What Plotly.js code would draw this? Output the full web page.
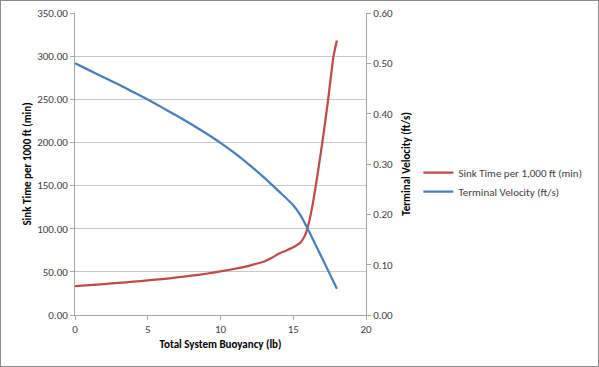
<!DOCTYPE html>
<html>
<head>
<meta charset="utf-8">
<script src="https://cdn.plot.ly/plotly-3.0.1.min.js"></script>
<style>
html,body{margin:0;padding:0;background:#fff;}
#wrap{width:599px;height:367px;box-sizing:border-box;border:1px solid #8c8c8c;overflow:hidden;}
#chart{width:597px;height:365px;}
</style>
</head>
<body>
<div id="wrap"><div id="chart"></div></div>
<script>
// Data
const sinkBuoyancy = [0, 1, 2, 3, 4, 5, 6, 7, 8, 9, 10, 11, 12, 13, 13.5, 14, 14.5, 15, 15.5, 15.8, 16, 16.3, 16.55, 17, 17.4, 17.77, 18];
const sinkTime     = [33.5, 34.7, 35.9, 37.2, 38.6, 40.1, 41.7, 43.5, 45.5, 47.8, 50.5, 53.6, 57.3, 62, 66, 71, 74.5, 78.5, 84, 92, 102, 125, 150, 200, 250, 300, 318];

const velBuoyancy  = [0, 1, 2, 3, 4, 5, 6, 7, 8, 9, 10, 11, 12, 13, 14, 15, 15.5, 16, 17, 18];
const velocity     = [0.500, 0.486, 0.472, 0.458, 0.443, 0.428, 0.412, 0.396, 0.379, 0.361, 0.342, 0.321, 0.298, 0.273, 0.246, 0.218, 0.198, 0.171, 0.112, 0.052];

const seriesNames = ["Sink Time per 1,000 ft (min)", "Terminal Velocity (ft/s)"];
const xTitle = "Total System Buoyancy (lb)";
const yTitle = "Sink Time per 1000 ft (min)";
const y2Title = "Terminal Velocity (ft/s)";

const FONT = "Carlito, 'Liberation Sans Narrow', 'Liberation Sans', Arial, sans-serif";
const grid = "#c8c8c8";
const axisLine = "#a6a6a6";

const traces = [
  {x: sinkBuoyancy, y: sinkTime, name: seriesNames[0], type: "scatter", mode: "lines",
   line: {color: "#be4b48", width: 2.25, shape: "spline", smoothing: 0.6}, yaxis: "y"},
  {x: velBuoyancy, y: velocity, name: seriesNames[1], type: "scatter", mode: "lines",
   line: {color: "#4a7ebb", width: 2.25, shape: "spline", smoothing: 0.6}, yaxis: "y2"}
];

const layout = {
  width: 597, height: 365,
  margin: {l: 74, r: 232, t: 12, b: 51, autoexpand: false},
  paper_bgcolor: "#fff", plot_bgcolor: "#fff",
  font: {family: FONT, size: 11, color: "#404040"},
  showlegend: true,
  legend: {x: 1.18, y: 0.44, xanchor: "left", yanchor: "middle",
           font: {family: FONT, size: 11, color: "#404040"}, tracegroupgap: 4,
           bgcolor: "rgba(0,0,0,0)", itemwidth: 30},
  xaxis: {range: [0, 20], dtick: 5, tick0: 0, showgrid: false, zeroline: false,
          showline: true, linecolor: axisLine, linewidth: 1,
          ticks: "outside", ticklen: 4, tickcolor: axisLine,
          tickfont: {family: FONT, size: 11, color: "#404040"},
          title: {text: xTitle, font: {family: FONT, size: 11, color: "#000", weight: "bold"}, standoff: 5}},
  yaxis: {range: [0, 350], dtick: 50, tick0: 0, tickformat: ".2f",
          showgrid: true, gridcolor: grid, gridwidth: 1, zeroline: false,
          showline: true, linecolor: axisLine, linewidth: 1,
          ticks: "outside", ticklen: 4, tickcolor: axisLine,
          tickfont: {family: FONT, size: 11, color: "#404040"},
          title: {text: yTitle, font: {family: FONT, size: 11, color: "#000", weight: "bold"}, standoff: 3}},
  yaxis2: {range: [0, 0.6], dtick: 0.1, tick0: 0, tickformat: ".2f", overlaying: "y", side: "right",
          showgrid: false, zeroline: false,
          showline: true, linecolor: axisLine, linewidth: 1,
          ticks: "outside", ticklen: 4, tickcolor: axisLine,
          tickfont: {family: FONT, size: 11, color: "#404040"},
          title: {text: y2Title, font: {family: FONT, size: 11, color: "#000", weight: "bold"}, standoff: 10}}
};

Plotly.newPlot("chart", traces, layout, {displayModeBar: false, staticPlot: true});
</script>
</body>
</html>
